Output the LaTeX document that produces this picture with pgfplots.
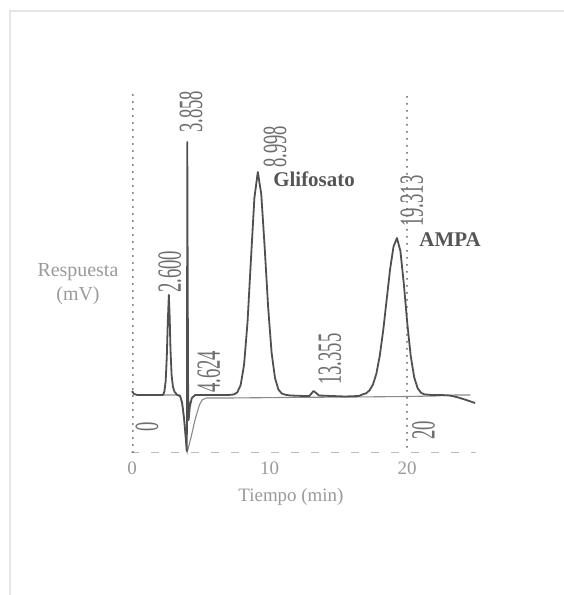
\documentclass[border=0pt]{standalone}
\usepackage{fontspec}
\setmainfont{Liberation Serif}
\usepackage{pgfplots}
\pgfplotsset{compat=1.18}
\definecolor{trace}{HTML}{505050}
\definecolor{trace2}{HTML}{8A8A8A}
\definecolor{labgray}{HTML}{6E6E6E}
\definecolor{txtgray}{HTML}{9A9A9A}
\definecolor{boldgray}{HTML}{555555}
\definecolor{framegray}{HTML}{E6E6E6}
\definecolor{dashgray}{HTML}{BBBBBB}
\definecolor{dotgray}{HTML}{606060}
\newcommand{\nl}[1]{\scalebox{0.55}[1]{\fontsize{34}{34}\selectfont #1}}
\tikzset{numlab/.style={rotate=90, anchor=west, inner sep=0pt, text=labgray}}
\begin{document}
\begin{tikzpicture}
\path[use as bounding box] (0,0) rectangle (564bp,595bp);
\fill[white] (0,0) rectangle (564bp,595bp);
\draw[line width=1.5bp, color=framegray] (10bp,0) -- (10bp,584bp) -- (564bp,584bp);
\begin{axis}[
  at={(118.25bp,130bp)}, anchor=south west,
  scale only axis, width=371.25bp, height=390bp,
  xmin=-1, xmax=26, ymin=-70, ymax=320,
  axis line style={draw=none},
  xtick={0,10,20}, ytick=\empty, major tick length=0pt,
  /pgf/number format/assume math mode=true,
  xticklabel style={anchor=base, yshift=-9.5bp, font=\fontsize{19}{19}\selectfont, text=txtgray},
  clip=false,
]
% reference lines
\addplot[color=dashgray, line width=1bp, dash pattern=on 8bp off 12bp] coordinates {(-0.1,-58) (25.0,-58)};
\addplot[color=dotgray, line width=2bp, line cap=round, dash pattern=on 0bp off 7bp] coordinates {(0.07,-57) (0.07,307)};
\addplot[color=dotgray, line width=2bp, line cap=round, dash pattern=on 0bp off 7bp] coordinates {(20.0,-52) (20.0,305)};
% second (blank) trace
\addplot[color=trace2, line width=1.1bp] coordinates {
(0,3) (0.15,1) (0.4,0) (3.45,0) (3.6,-6) (3.75,-20) (3.9,-42) (4.02,-57) (4.3,-42) (4.6,-24) (4.9,-10) (5.1,-5) (5.4,-3) (7,-3) (11,-2.5) (16,-2) (20,-1.5) (22,-1) (23.5,0) (24.6,0)
};
% main trace
\addplot[color=trace, line width=1.8bp, line join=round] coordinates {
(0,4) (0.15,1) (0.4,0) (1.0,0) (2.0,0) (2.25,0) (2.35,3) (2.45,14) (2.53,38) (2.6,72) (2.68,100) (2.74,78) (2.8,45) (2.88,20) (2.98,8) (3.1,3) (3.3,0) (3.5,-1) (3.65,-8) (3.8,-25) (3.92,-45) (3.98,-56) (4.0,-20) (4.02,253) (4.05,120) (4.08,10) (4.12,-25) (4.2,-12) (4.35,-3) (4.6,0) (5,0) (6,0) (7,0)
(7.4,0.5) (7.65,2.5) (7.9,9.8) (8.15,30.2) (8.4,72.4) (8.65,135.3) (8.9,196.8) (9.15,223) (9.4,201) (9.65,147.5) (9.9,88) (10.15,42.7) (10.4,16.9) (10.65,5.4) (10.9,1.4) (11.15,0.3)
(11.5,-0.5) (12.5,-1) (12.9,-1) (13.05,1.5) (13.2,4) (13.35,2.5) (13.6,-0.5) (14.5,-1) (15.5,-1.5) (16.5,-1)
(16.77,0.6) (17.02,1.7) (17.27,4.5) (17.52,10.3) (17.77,21.2) (18.02,39.2) (18.27,64.6) (18.52,95.2) (18.77,125.7) (19.02,148.5) (19.27,157) (19.52,144) (19.77,111) (20.02,71.9) (20.27,39.1) (20.52,17.9) (20.77,6.9) (21.02,2.2) (21.27,0.6)
(21.8,0) (22.5,0) (23.1,-0.5) (23.6,-2) (24.2,-4.5) (24.95,-8)
};
% peak labels
\node[numlab] at (axis cs:2.76,102) {\nl{2.600}};
\node[numlab] at (axis cs:4.29,262) {\nl{3.858}};
\node[numlab] at (axis cs:5.6,2) {\nl{4.624}};
\node[numlab] at (axis cs:10.4,227) {\nl{8.998}};
\node[numlab] at (axis cs:14.4,10) {\nl{13.355}};
\node[numlab] at (axis cs:20.36,168) {\nl{19.313}};
\node[numlab] at (axis cs:1.1,-37) {\nl{0}};
\node[numlab] at (axis cs:21.2,-45) {\nl{20}};
% compound names
\node[anchor=base, inner sep=0pt, text=boldgray, font=\fontsize{21}{21}\selectfont\bfseries] at (axis cs:13.24,208) {Glifosato};
\node[anchor=base, inner sep=0pt, text=boldgray, font=\fontsize{21}{21}\selectfont\bfseries] at (axis cs:23.13,148) {AMPA};
% axis titles
\node[anchor=base, inner sep=0pt, text=txtgray, font=\fontsize{20}{20}\selectfont] at (axis cs:-3.93,118) {Respuesta};
\node[anchor=base, inner sep=0pt, text=txtgray, font=\fontsize{20}{20}\selectfont] at (axis cs:-3.93,94) {(mV)};
\node[anchor=base, inner sep=0pt, text=txtgray, font=\fontsize{19}{19}\selectfont] at (axis cs:11.56,-107) {Tiempo (min)};
\end{axis}
\end{tikzpicture}
\end{document}
